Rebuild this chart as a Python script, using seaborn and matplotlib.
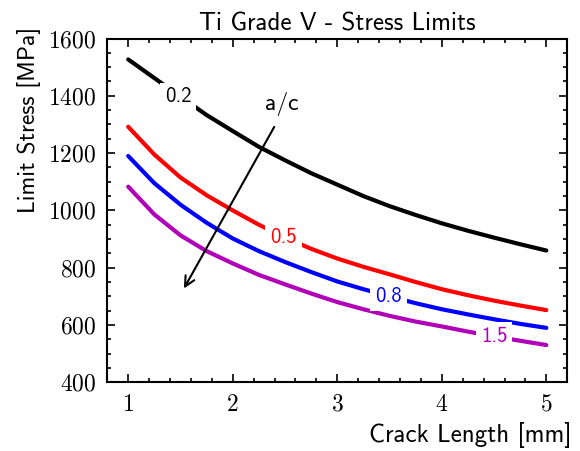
import pandas as pd
import matplotlib
matplotlib.use("Agg")
import matplotlib.pyplot as plt
import seaborn as sns
from matplotlib.ticker import MultipleLocator

# Data
crack_mm = [1, 1.25, 1.5, 1.75, 2, 2.25, 2.5, 2.75, 3, 3.25, 3.5, 3.75, 4, 4.25, 4.5, 4.75, 5]
stress_02 = [1527, 1462, 1397, 1333, 1277, 1222, 1175, 1130, 1090, 1050, 1015, 984, 955, 929, 905, 882, 860]
stress_05 = [1292, 1195, 1115, 1053, 1000, 950, 905, 866, 832, 803, 777, 750, 725, 704, 685, 668, 652]
stress_08 = [1190, 1095, 1020, 957, 902, 858, 820, 785, 752, 725, 700, 676, 655, 637, 620, 604, 590]
stress_15 = [1083, 986, 913, 858, 815, 775, 742, 710, 680, 655, 632, 612, 595, 577, 560, 545, 530]
ratios = ["0.2", "0.5", "0.8", "1.5"]
colors = ["black", "red", "blue", "#b000b8"]
label_pos = [(1.48, 1396), (2.485, 906), (3.49, 699), (4.50, 559)]

df = pd.DataFrame({
    "Crack": crack_mm * 4,
    "Stress": stress_02 + stress_05 + stress_08 + stress_15,
    "ac": sum([[r] * len(crack_mm) for r in ratios], []),
})

sns.set_style("ticks")
plt.rcParams["axes.formatter.use_mathtext"] = True
plt.rcParams["text.color"] = "black"
plt.rcParams["axes.labelcolor"] = "black"
plt.rcParams["axes.edgecolor"] = "black"
plt.rcParams["xtick.color"] = "black"
plt.rcParams["ytick.color"] = "black"

fig = plt.figure(figsize=(5.8, 4.51), dpi=100)
ax = fig.add_axes([0.185, 0.1523, 0.793, 0.7623])

sns.lineplot(data=df, x="Crack", y="Stress", hue="ac", palette=colors,
             linewidth=3, legend=False, ax=ax)

# inline curve labels
for r, c, (lx, ly) in zip(ratios, colors, label_pos):
    ax.text(lx, ly, r, color=c, fontsize=15, family="cmss10", ha="center", va="center",
            bbox=dict(facecolor="white", edgecolor="none", pad=3.5), zorder=5)

# arrow showing increasing a/c
ax.annotate("", xy=(1.52, 719), xytext=(2.41, 1300),
            arrowprops=dict(arrowstyle="->", lw=1.5, color="black", mutation_scale=18))
ax.text(2.47, 1371, "a/c", fontsize=17, family="cmss10", ha="center", va="center")

ax.set_xlim(0.8, 5.2)
ax.set_ylim(400, 1600)
ax.xaxis.set_major_locator(MultipleLocator(1))
ax.xaxis.set_minor_locator(MultipleLocator(0.2))
ax.yaxis.set_major_locator(MultipleLocator(200))
ax.yaxis.set_minor_locator(MultipleLocator(50))
ax.tick_params(which="both", direction="in", top=True, right=True, width=1.2)
ax.tick_params(which="major", length=6, labelsize=17, pad=8)
ax.tick_params(which="minor", length=3)
for lab in ax.get_xticklabels() + ax.get_yticklabels():
    lab.set_family("cmr10")
for s in ax.spines.values():
    s.set_linewidth(1.5)

ax.set_title("Ti Grade V - Stress Limits", fontsize=18, family="cmss10", pad=6)
ax.set_xlabel("Crack Length [mm]", fontsize=18, family="cmss10", loc="right")
ax.set_ylabel("Limit Stress [MPa]", fontsize=17, family="cmss10", loc="top")
ax.yaxis.set_label_coords(-0.145, 1.035)
ax.xaxis.set_label_coords(1.01, -0.115)

fig.savefig("out.png", dpi=100)
